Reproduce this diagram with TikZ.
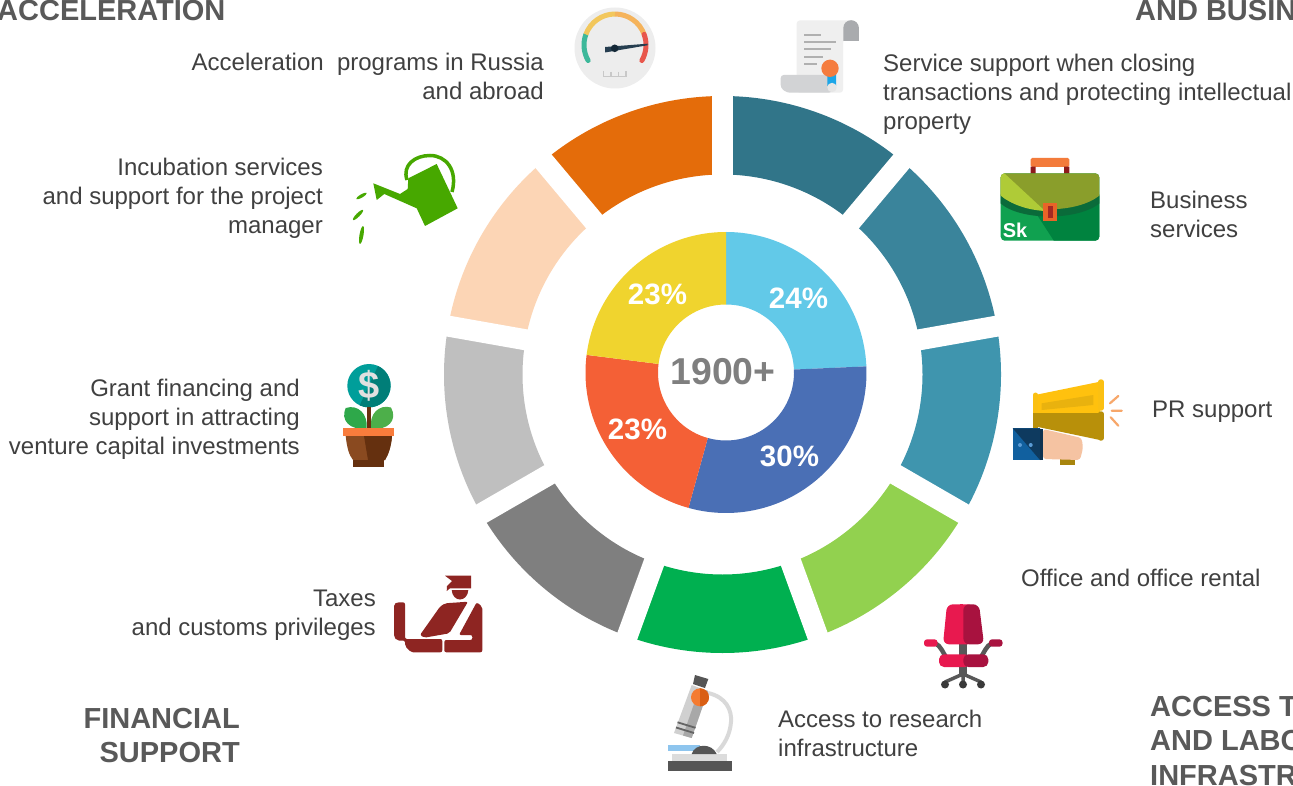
\documentclass[tikz,border=0pt]{standalone}
\usepackage{fontspec}
\setmainfont{Liberation Sans}
\definecolor{txt}{HTML}{404040}
\definecolor{head}{HTML}{595959}
\definecolor{total}{HTML}{7F7F7F}
\tikzset{
  lbl/.style={text=txt,font=\fontsize{24}{29}\selectfont,inner sep=0pt},
  lblr/.style={lbl,align=right,anchor=east},
  lbll/.style={lbl,align=left,anchor=west},
  hd/.style={text=head,font=\fontsize{29}{34.5}\selectfont\bfseries,inner sep=0pt},
  pct/.style={text=white,font=\fontsize{29.5}{30}\selectfont\bfseries,inner sep=0pt},
}
\begin{document}
\begin{tikzpicture}[x=1pt,y=1pt,yscale=-1]
\useasboundingbox (0,0) rectangle (1293,786);
\clip (0,0) rectangle (1293,786);
\fill[white] (0,0) rectangle (1293,786);
% outer ring
\begin{scope}[shift={(722.5,374.5)}]
\foreach \a/\c in {-90/317589,-50/3A849B,-10/3F95AE,30/92D14F,70/00B050,110/7F7F7F,150/BFBFBF,190/FCD5B5,230/E46C0A}{
  \definecolor{seg}{HTML}{\c}
  \pgfmathsetmacro{\b}{\a+40}
  \fill[seg] (\a:278.5pt) arc[start angle=\a,end angle=\b,radius=278.5pt] -- (\b:200pt) arc[start angle=\b,end angle=\a,radius=200pt] -- cycle;
}
\foreach \a in {-90,-50,-10,30,70,110,150,190,230}{
  \draw[white,line width=21pt] (\a:190pt) -- (\a:290pt);
}
\end{scope}
% inner donut
\begin{scope}[shift={(726,372.5)}]
\foreach \a/\b/\c in {-90/-2.5/62C9E8,-2.5/105.5/4A6FB5,105.5/187.2/F46036,187.2/270/F0D42E}{
  \definecolor{seg}{HTML}{\c}
  \fill[seg] (\a:140.5pt) arc[start angle=\a,end angle=\b,radius=140.5pt] -- (\b:68pt) arc[start angle=\b,end angle=\a,radius=68pt] -- cycle;
}
\end{scope}
\node[pct] (p1) at (798.5,298) {24\%};
\node[pct] (p2) at (789.5,456) {30\%};
\node[pct] (p3) at (637.5,429) {23\%};
\node[pct] (p4) at (657.5,294) {23\%};
\node[text=total,font=\fontsize{37.4}{38}\selectfont\bfseries,inner sep=0pt] (totaln) at (723,372) {1900+};
% labels
\node[lblr] (t1) at (544,76.5) {Acceleration\ \ programs in Russia\\and abroad};
\node[lbll] (t2) at (883,94) {Service support when closing\\transactions and protecting intellectual\\property};
\node[lblr] (t3) at (323,198) {Incubation services\\and support for the project\\manager};
\node[lbll] (t4) at (1150,214.5) {Business\\services};
\node[lbll] (t5) at (1152,411.5) {PR support};
\node[lblr] (t6) at (300,419) {Grant financing and\\support in attracting\\venture capital investments};
\node[lbll] (t7) at (1021,578) {Office and office rental};
\node[lblr] (t8) at (376,615.5) {Taxes\\and customs privileges};
\node[lbll] (t9) at (778,733.5) {Access to research\\infrastructure};
% headings
\node[hd,anchor=west] (h1) at (-3,11) {ACCELERATION};
\node[hd,anchor=west] (h2) at (1135,11) {AND BUSIN};
\node[hd,anchor=east,align=right] (h3) at (240,735.5) {FINANCIAL\\SUPPORT};
\node[hd,anchor=west,align=left] (h4) at (1150,741) {ACCESS T\\AND LABO\\INFRASTR};
% gauge
\fill[black!7] (615,48) circle[radius=40.5pt];
\draw[line width=5pt,color={rgb,255:red,61;green,184;blue,154},line cap=round] (615,45)++(150:31pt) arc[start angle=150,end angle=200,radius=31pt];
\draw[line width=5pt,color={rgb,255:red,242;green,199;blue,92}] (615,45)++(200:31pt) arc[start angle=200,end angle=270,radius=31pt];
\draw[line width=5pt,color={rgb,255:red,245;green,179;blue,91}] (615,45)++(270:31pt) arc[start angle=270,end angle=340,radius=31pt];
\draw[line width=5pt,color={rgb,255:red,232;green,87;blue,76},line cap=round] (615,45)++(340:31pt) arc[start angle=340,end angle=390,radius=31pt];
\fill[color={rgb,255:red,38;green,62;blue,80}] (605,47) -- (647.5,43.7) -- (647.5,45.3) -- (605,52.5) -- cycle;
\fill[color={rgb,255:red,20;green,40;blue,55}] (614.7,48.3) circle[radius=3.8pt];
\draw[color={rgb,255:red,200;green,200;blue,200},line width=1.2pt] (603.5,71) -- (603.5,76.5) -- (626,76.5) -- (626,71) (611,72) -- (611,76.5) (618.5,72) -- (618.5,76.5);
% certificate
\fill[color={rgb,255:red,239;green,239;blue,239},rounded corners=3pt] (796.7,20.5) -- (855,20.5) -- (843,41) -- (843,92.7) -- (796.7,92.7) -- cycle;
\fill[color={rgb,255:red,169;green,171;blue,174}] (843.3,41) -- (843.3,28) arc[start angle=180,end angle=360,radius=7.8pt] -- (858.9,41) -- cycle;
\foreach \yy/\xx in {35/821,42.3/835.7,49.3/831,56.7/822.7,64/816.7}{
  \draw[color={rgb,255:red,176;green,176;blue,176},line width=2.3pt] (804.3,\yy) -- (\xx,\yy);
}
\fill[color={rgb,255:red,210;green,211;blue,213},rounded corners=3pt] (780.7,75) -- (832,75) -- (832,92.7) -- (787,92.7) -- (780.7,88) -- cycle;
\fill[color={rgb,255:red,28;green,166;blue,232}] (827.3,73) -- (836,73) -- (836,86) -- (831.7,83.5) -- (827.3,86) -- cycle;
\fill[color={rgb,255:red,230;green,230;blue,230}] (832,87.5) circle[radius=4.7pt];
\fill[color={rgb,255:red,245;green,124;blue,62}] (830,68.3) circle[radius=8.7pt];
% briefcase
\fill[color={rgb,255:red,243;green,123;blue,59},rounded corners=1.5pt] (1030.7,158) rectangle (1069.3,167);
\fill[color={rgb,255:red,142;green,27;blue,27}] (1030.7,166.7) rectangle (1035.7,174) (1064,166.7) rectangle (1069.3,174);
\begin{scope}
\clip[rounded corners=4pt] (1000.7,173.3) rectangle (1099.3,240.7);
\fill[color={rgb,255:red,16;green,161;blue,80}] (1000,173) rectangle (1100,241);
\fill[color={rgb,255:red,0;green,131;blue,63}] (1040,196) -- (1100,196) -- (1100,241) -- (1054,241) -- (1030,204) -- cycle;
\fill[color={rgb,255:red,10;green,107;blue,58}] (1000,194) .. controls (1020,213) and (1078,213) .. (1100,194) -- (1100,203) .. controls (1078,221) and (1020,221) .. (1000,203) -- cycle;
\fill[color={rgb,255:red,138;green,158;blue,43}] (1000,173) rectangle (1100,195) (1000,195) .. controls (1020,214) and (1078,214) .. (1100,195) -- cycle;
\fill[color={rgb,255:red,175;green,203;blue,55}] (1000,173) -- (1004,173) -- (1045,211) .. controls (1028,210) and (1012,205) .. (1000,195) -- cycle;
\end{scope}
\fill[color={rgb,255:red,232;green,100;blue,40}] (1043.3,203.5) rectangle (1056.7,221);
\fill[color={rgb,255:red,165;green,40;blue,35}] (1047.5,206.5) rectangle (1052.5,218);
\node[text=white,font=\fontsize{20}{20}\selectfont\bfseries,inner sep=0pt] (sk) at (1015,230) {Sk};
% megaphone
\fill[color={rgb,255:red,168;green,133;blue,14}] (1060,458) rectangle (1075,465);
\fill[color={rgb,255:red,255;green,193;blue,14}] (1035,395) -- (1100,381.7) -- (1100,413) -- (1035,413) -- cycle;
\fill[color={rgb,255:red,184;green,144;blue,10}] (1035,413) -- (1100,413) -- (1100,440) -- (1038,427) -- cycle;
\fill[color={rgb,255:red,233;green,178;blue,14}] (1041.7,403.3) -- (1093.3,395) -- (1093.3,405) -- (1041.7,410) -- cycle;
\draw[color={rgb,255:red,251;green,192;blue,18},line width=5pt,line cap=round] (1035.5,395) -- (1035.5,425);
\fill[color={rgb,255:red,184;green,144;blue,10}] (1033,413) rectangle (1038,428);
\draw[color={rgb,255:red,251;green,192;blue,18},line width=5.5pt,line cap=round] (1101,382) -- (1101,408);
\draw[color={rgb,255:red,184;green,144;blue,10},line width=5.5pt,line cap=round] (1101,414) -- (1101,438);
\fill[color={rgb,255:red,245;green,195;blue,162},rounded corners=3pt] (1043,429) -- (1081.7,438) -- (1083,448) -- (1080,460) -- (1043,459) -- cycle;
\fill[color={rgb,255:red,17;green,96;blue,159}] (1012.7,428.3) rectangle (1040,460);
\fill[color={rgb,255:red,14;green,58;blue,95}] (1012.7,428.3) -- (1040,428.3) -- (1040,460) -- cycle;
\fill[color={rgb,255:red,14;green,50;blue,80}] (1040,429) rectangle (1043.3,460);
\fill[color={rgb,255:red,90;green,155;blue,213}] (1020,445) circle[radius=2pt] (1030.7,445) circle[radius=2pt];
\draw[color={rgb,255:red,247;green,167;blue,106},line width=2.2pt,line cap=round] (1110,403.3) -- (1118.3,396) (1111.7,410.7) -- (1121.7,410.7) (1110.7,417.3) -- (1118.3,425.7);
% chair
\draw[color={rgb,255:red,88;green,88;blue,88},line width=4.5pt] (935,643) .. controls (941,646) and (943,653) .. (946,657) (992,643) .. controls (986,646) and (984,653) .. (981,657);
\fill[color={rgb,255:red,88;green,88;blue,88}] (959,644) rectangle (967,675);
\draw[color={rgb,255:red,88;green,88;blue,88},line width=3.5pt] (945,682) -- (963,674) -- (981,682) (963,674) -- (963,682);
\fill[color={rgb,255:red,58;green,58;blue,58}] (945,684.5) circle[radius=4pt] (963,684.5) circle[radius=4pt] (981,684.5) circle[radius=4pt];
\fill[color={rgb,255:red,232;green,25;blue,79},rounded corners=6pt] (947,604.3) -- (973.5,604.3) -- (973.5,644.3) -- (943,644.3) -- cycle;
\fill[color={rgb,255:red,168;green,18;blue,63},rounded corners=6pt] (963.3,604.3) -- (979,604.3) -- (984,644.3) -- (963.3,644.3) -- cycle;
\fill[color={rgb,255:red,232;green,25;blue,79}] (960,604.3) rectangle (963.3,644.3);
\fill[color={rgb,255:red,232;green,25;blue,79},rounded corners=5pt] (939,654.3) rectangle (970,667);
\fill[color={rgb,255:red,168;green,18;blue,63},rounded corners=5pt] (963.3,654.3) -- (988.3,654.3) -- (988.3,667) -- (963.3,667) -- cycle;
\fill[color={rgb,255:red,232;green,25;blue,79},rounded corners=3pt] (924,639.3) rectangle (937.5,646.7);
\fill[color={rgb,255:red,168;green,18;blue,63},rounded corners=3pt] (989,639.3) rectangle (1002.5,646.7);
% microscope
\draw[color={rgb,255:red,217;green,217;blue,217},line width=4pt] (708,693) .. controls (726,697) and (732,710) .. (731,722) .. controls (730,735) and (724,745) .. (717,752);
\fill[color={rgb,255:red,142;green,197;blue,238}] (668.3,745) rectangle (700,751);
\fill[color={rgb,255:red,220;green,220;blue,220}] (671.7,754) rectangle (727.3,760.7);
\fill[color={rgb,255:red,85;green,85;blue,85}] (668.3,760.7) rectangle (732.3,770.7);
\fill[color={rgb,255:red,85;green,85;blue,85}] (691.7,754) .. controls (695,743) and (712,743) .. (716.7,754) -- cycle;
\fill[color={rgb,255:red,85;green,85;blue,85}] (695,675) -- (708.3,679) -- (705,688) -- (693,684) -- cycle;
\fill[color={rgb,255:red,208;green,208;blue,208}] (691.7,685) -- (708,691) -- (691.7,738) -- (674,733) -- cycle;
\fill[color={rgb,255:red,168;green,168;blue,168}] (699.5,688) -- (708,691) -- (691.7,738) -- (683,735.5) -- cycle;
\draw[color={rgb,255:red,100;green,100;blue,100},line width=1.8pt] (677.5,722.3) -- (695.5,727.8) (676,727.5) -- (694,733);
\fill[color={rgb,255:red,244;green,123;blue,48}] (700,697.3) circle[radius=9pt];
\fill[color={rgb,255:red,217;green,95;blue,20}] (700,688.3) arc[start angle=-90,end angle=90,radius=9pt] -- cycle;
% officer
\fill[color={rgb,255:red,142;green,37;blue,34}]
  (445,575.7) -- (471,575.7) -- (471,588.3) -- (450,588.3) -- (446.7,591) -- (447,586) -- (452,581) -- cycle;
\fill[color={rgb,255:red,142;green,37;blue,34}] (451.7,590) -- (468.3,590) .. controls (468,596) and (464,599.5) .. (460,599.5) .. controls (456,599.5) and (452,596) .. (451.7,590) -- cycle;
\fill[color={rgb,255:red,142;green,37;blue,34},rounded corners=2pt] (394,604) -- (397,602.3) -- (405,602.3) -- (405,639) -- (442.3,639) -- (442.3,652.3) -- (411,652.3) -- (405,646) -- (405,640.5) -- (397,640.5) -- (394,637) -- cycle;
\fill[color={rgb,255:red,142;green,37;blue,34},rounded corners=2pt] (420,635) -- (440,606.7) -- (445,603.3) -- (468,601.7) -- (449.3,633.3) -- (424.3,637.7) -- cycle;
\fill[color={rgb,255:red,142;green,37;blue,34},rounded corners=2pt] (444.3,640) -- (472.3,640) -- (472.3,635) -- (459,635) -- (476.7,602.3) -- (482.3,606.7) -- (482.3,652.3) -- (444.3,652.3) -- cycle;
% plant
\fill[color={rgb,255:red,0;green,158;blue,154}] (369,385.7) circle[radius=21.7pt];
\fill[color={rgb,255:red,0;green,126;blue,120}] (378,366) arc[start angle=-65,end angle=115,radius=21.7pt] -- cycle;
\node[text=black!12,font=\fontsize{38}{38}\selectfont\bfseries,inner sep=0pt] (dollar) at (369,385.5) {\$};
\fill[color={rgb,255:red,46;green,168;blue,74}] (366.7,428.3) .. controls (350,431) and (340,420) .. (345.7,408) .. controls (358,404) and (368,414) .. (366.7,428.3) -- cycle;
\fill[color={rgb,255:red,77;green,175;blue,74}] (371,428.3) .. controls (388,431) and (398,420) .. (391,407.5) .. controls (379,404) and (369,414) .. (371,428.3) -- cycle;
\fill[color={rgb,255:red,107;green,48;blue,16}] (366.7,407) rectangle (370.7,429);
\fill[color={rgb,255:red,138;green,74;blue,32}] (345.7,436) -- (392,436) .. controls (391,448) and (388,455) .. (385,460) -- (353,460) .. controls (349,455) and (347,448) .. (345.7,436) -- cycle;
\fill[color={rgb,255:red,101;green,48;blue,15}] (364,436) -- (392,436) .. controls (391,448) and (388,455) .. (385,460) -- (368,460) -- cycle;
\fill[color={rgb,255:red,101;green,48;blue,15}] (353.3,460) rectangle (384.3,466.7);
\fill[color={rgb,255:red,249;green,124;blue,60}] (343.3,428.3) rectangle (394,436);
% watering can
\fill[color={rgb,255:red,71;green,168;blue,0}] (373.3,183.3) -- (400,194) -- (407.7,189) -- (408.3,178.3) -- (436.7,164) -- (457.7,208.3) -- (425,226) -- (416.7,208.3) -- (384.3,194) -- (376.7,200) -- cycle;
\draw[color={rgb,255:red,71;green,168;blue,0},line width=3.5pt] (407,180) .. controls (402,165) and (415,155.5) .. (430,155.5) .. controls (446,155.5) and (458,170) .. (452,192);
\begin{scope}[color={rgb,255:red,71;green,168;blue,0}]
\fill[rotate around={-30:(361.5,196)}] (361.5,196) ellipse[x radius=6pt,y radius=1.6pt];
\fill[rotate around={-45:(358,215)}] (358,215) ellipse[x radius=7pt,y radius=1.8pt];
\fill[rotate around={-80:(361.5,235)}] (361.5,235) ellipse[x radius=9pt,y radius=2pt];
\end{scope}
\end{tikzpicture}
\end{document}
